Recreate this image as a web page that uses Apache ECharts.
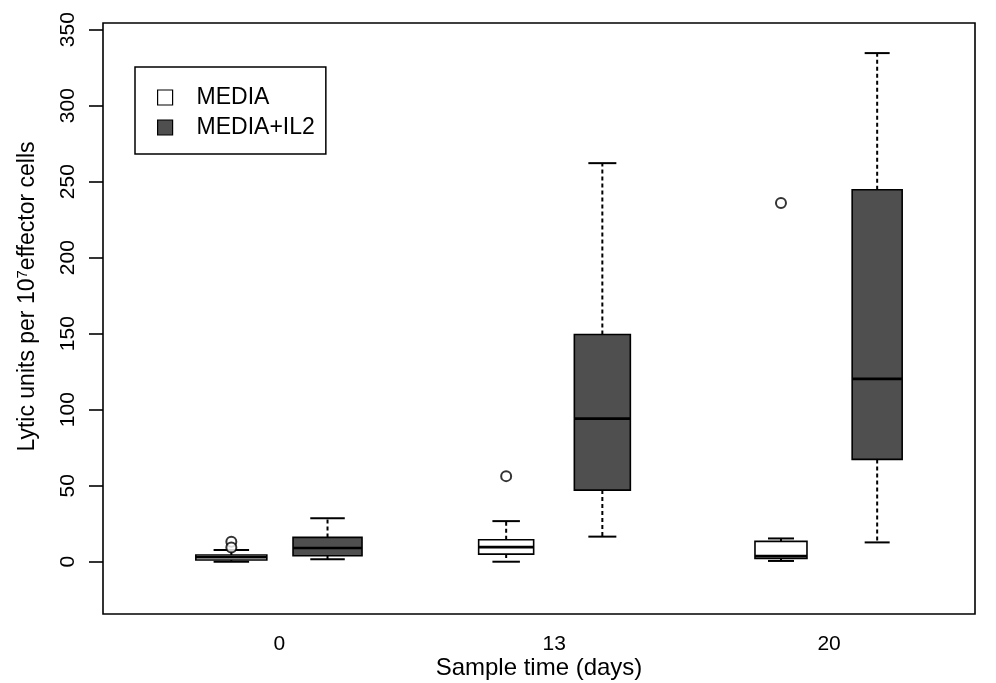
<!DOCTYPE html>
<html style="height: 100%">
<head>
<meta charset="utf-8">
<title>Lytic units</title>
<script src="https://cdn.jsdelivr.net/npm/echarts@6/dist/echarts.min.js"></script>
</head>
<body style="height: 100%; margin: 0; background: #fff">
<div id="container" style="width: 996px; height: 683px"></div>
<script type="text/javascript">
// sample days (one group per day)
var groups = ['0', '13', '20'];
var yTicks = [0, 50, 100, 150, 200, 250, 300, 350];

// boxes: [lower whisker, Q1, median, Q3, upper whisker], one per day
var mediaBox = [
	[0, 1.1, 2.9, 4.4, 7.7],
	[0, 5.0, 9.6, 14.4, 26.7],
	[0.5, 2.2, 3.7, 13.4, 15.3]
];
var il2Box = [
	[1.6, 3.9, 9.0, 16.0, 28.6],
	[16.5, 47.1, 94.1, 149.5, 262.2],
	[12.7, 67.3, 120.3, 244.7, 334.6]
];
// outliers: [group index, value]
var mediaOutliers = [[0, 13.1], [0, 9.4], [1, 56.3], [2, 236.0]];
var il2Outliers = [];

// layout
var OFFSET = 0.175;
var mediaWidths = [71, 55, 52];
var il2Widths = [69, 56, 50];
var FONT = 'Liberation Sans, Arial, sans-serif';

function placed(rows, shift) {
	return rows.map(function (d, i) { return [i + shift].concat(d); });
}
function placedPts(rows, shift) {
	return rows.map(function (d) { return [d[0] + shift, d[1]]; });
}

function makeRender(widths, fill) {
	return function (params, api) {
		var x = api.value(0);
		var w = widths[params.dataIndex];
		var cx = api.coord([x, 0])[0];
		function y(i) { return api.coord([x, api.value(i)])[1]; }
		var yLo = y(1), yQ1 = y(2), yMed = y(3), yQ3 = y(4), yHi = y(5);
		var dash = { stroke: '#000', lineWidth: 2, lineDash: [4, 3] };
		var solid = { stroke: '#000', lineWidth: 2 };
		return {
			type: 'group',
			children: [
				{ type: 'line', shape: { x1: cx, y1: yQ3, x2: cx, y2: yHi }, style: dash },
				{ type: 'line', shape: { x1: cx, y1: yQ1, x2: cx, y2: yLo }, style: dash },
				{ type: 'line', shape: { x1: cx - w / 4, y1: yHi, x2: cx + w / 4, y2: yHi }, style: solid },
				{ type: 'line', shape: { x1: cx - w / 4, y1: yLo, x2: cx + w / 4, y2: yLo }, style: solid },
				{ type: 'rect', shape: { x: cx - w / 2, y: yQ3, width: w, height: yQ1 - yQ3 },
					style: { fill: fill, stroke: '#000', lineWidth: 1.6 } },
				{ type: 'line', shape: { x1: cx - w / 2, y1: yMed, x2: cx + w / 2, y2: yMed },
					style: { stroke: '#000', lineWidth: 2.6 } }
			]
		};
	};
}

var myChart = echarts.init(document.getElementById('container'));

var option = {
	animation: false,
	backgroundColor: '#fff',
	grid: {
		left: 103,
		right: 21,
		top: 23,
		bottom: 69,
		outerBoundsMode: 'none',
		containLabel: false,
		show: true,
		borderColor: '#000',
		borderWidth: 1.6,
		backgroundColor: 'transparent'
	},
	legend: {
		orient: 'vertical',
		left: 135,
		top: 67,
		borderColor: '#000',
		borderWidth: 1.5,
		padding: [19, 11, 15, 22],
		itemWidth: 15,
		itemHeight: 15,
		itemGap: 7,
		icon: 'rect',
		textStyle: { fontSize: 23, color: '#000', fontFamily: FONT, padding: [0, 0, 0, 19] },
		data: [
			{ name: 'MEDIA', itemStyle: { color: '#fff', borderColor: '#000', borderWidth: 1.2 } },
			{ name: 'MEDIA+IL2', itemStyle: { color: '#4f4f4f', borderColor: '#000', borderWidth: 1.2 } }
		]
	},
	xAxis: {
		type: 'value',
		min: -0.642,
		max: 2.531,
		name: 'Sample time (days)',
		nameLocation: 'middle',
		nameGap: 42,
		nameMoveOverlap: false,
		nameTextStyle: { fontSize: 24, color: '#000', fontFamily: FONT },
		axisLine: { show: false, onZero: false },
		axisTick: { show: false },
		splitLine: { show: false },
		axisLabel: {
			customValues: [0, 1, 2],
			formatter: function (v) { return groups[Math.round(v)]; },
			fontSize: 21,
			color: '#000',
			fontFamily: FONT,
			margin: 20
		}
	},
	yAxis: {
		type: 'value',
		min: -34.4,
		max: 354.4,
		name: 'Lytic units per 10{sup|7}effector cells',
		nameLocation: 'middle',
		nameGap: 63,
		nameMoveOverlap: false,
		nameTextStyle: {
			fontSize: 23,
			color: '#000',
			fontFamily: FONT,
			padding: [0, 0, 0, 44],
			rich: {
				sup: { fontSize: 15, color: '#000', fontFamily: FONT, verticalAlign: 'top', padding: [0, 0, 10, 0] }
			}
		},
		axisLine: { show: false, onZero: false },
		splitLine: { show: false },
		axisTick: {
			show: true,
			length: 14,
			customValues: yTicks,
			lineStyle: { color: '#000', width: 1.6 }
		},
		axisLabel: {
			customValues: yTicks,
			rotate: 90,
			fontSize: 21,
			color: '#000',
			fontFamily: FONT,
			margin: 24
		}
	},
	series: [{
		name: 'MEDIA',
		type: 'custom',
		renderItem: makeRender(mediaWidths, '#fff'),
		itemStyle: { color: '#fff', borderColor: '#000' },
		encode: { x: 0, y: [1, 2, 3, 4, 5] },
		data: placed(mediaBox, -OFFSET),
		z: 2
	}, {
		name: 'MEDIA+IL2',
		type: 'custom',
		renderItem: makeRender(il2Widths, '#4f4f4f'),
		itemStyle: { color: '#4f4f4f', borderColor: '#000' },
		encode: { x: 0, y: [1, 2, 3, 4, 5] },
		data: placed(il2Box, OFFSET),
		z: 2
	}, {
		name: 'MEDIA outliers',
		type: 'scatter',
		symbol: 'emptyCircle',
		symbolSize: 10,
		itemStyle: { color: '#000', borderWidth: 2 },
		data: placedPts(mediaOutliers, -OFFSET),
		z: 3
	}, {
		name: 'MEDIA+IL2 outliers',
		type: 'scatter',
		symbol: 'emptyCircle',
		symbolSize: 10,
		itemStyle: { color: '#000', borderWidth: 2 },
		data: placedPts(il2Outliers, OFFSET),
		z: 3
	}]
};

myChart.setOption(option);
</script>
</body>
</html>
